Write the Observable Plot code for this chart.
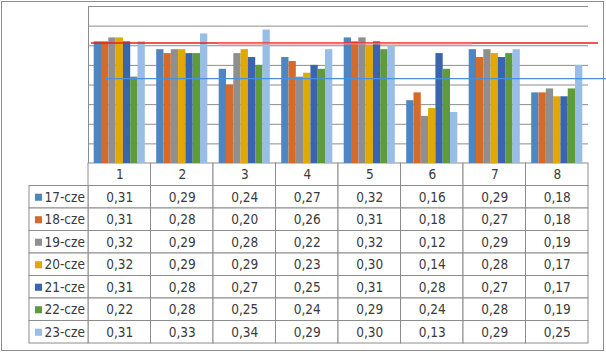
<!DOCTYPE html>
<html>
<head>
<meta charset="utf-8">
<script src="https://cdn.jsdelivr.net/npm/d3@7"></script>
<script src="https://cdn.jsdelivr.net/npm/@observablehq/plot@0.6"></script>
<style>
  html, body { margin: 0; padding: 0; background: white; }
  #wrap { position: relative; width: 606px; height: 352px; background: white; overflow: hidden; }
  #wrap svg { position: absolute; left: 0; top: 0; }
  #frame { position: absolute; left: 1px; top: 1px; width: 601px; height: 348px; border: 1px solid #8c8c8c; }
</style>
</head>
<body>
<div id="wrap"><div id="frame"></div></div>
<script>
const categories = ["1", "2", "3", "4", "5", "6", "7", "8"];
const series = ["17-cze", "18-cze", "19-cze", "20-cze", "21-cze", "22-cze", "23-cze"];
const v17 = [0.31, 0.29, 0.24, 0.27, 0.32, 0.16, 0.29, 0.18];
const v18 = [0.31, 0.28, 0.20, 0.26, 0.31, 0.18, 0.27, 0.18];
const v19 = [0.32, 0.29, 0.28, 0.22, 0.32, 0.12, 0.29, 0.19];
const v20 = [0.32, 0.29, 0.29, 0.23, 0.30, 0.14, 0.28, 0.17];
const v21 = [0.31, 0.28, 0.27, 0.25, 0.31, 0.28, 0.27, 0.17];
const v22 = [0.22, 0.28, 0.25, 0.24, 0.29, 0.24, 0.28, 0.19];
const v23 = [0.31, 0.33, 0.34, 0.29, 0.30, 0.13, 0.29, 0.25];
const colors = ["#4e86c1", "#d56b2a", "#8f8f8f", "#e1a800", "#3b64ae", "#5f9b3d", "#98bde6"];
const gridTicks = [0, 0.05, 0.1, 0.15, 0.2, 0.25, 0.3, 0.35, 0.4];
const redLine = 0.307;
const pinkLine = 0.305;
const blueLine = 0.216;

const seriesValues = [v17, v18, v19, v20, v21, v22, v23];
const rows = [];
series.forEach((s, i) => categories.forEach((c, j) => rows.push({series: s, cat: c, value: seriesValues[i][j]})));
const headerRows = categories.map(c => ({cat: c, series: "hdr"}));
const labelRows = series.map(s => ({series: s}));
const fmt = v => d3.format(".2f")(v).replace(".", ",");

const wrap = document.getElementById("wrap");
const FONT = "DejaVu Sans Condensed, DejaVu Sans, sans-serif";
const FS = 13.5;
const GRID = "#8c8c8c";
const TXT = "#3a3a3a";
const transparent = {background: "transparent", overflow: "visible"};

const chartDims = {width: 606, height: 164, marginTop: 6, marginBottom: 1};

// grid
wrap.appendChild(Plot.plot({
  ...chartDims, marginLeft: 88, marginRight: 18, style: transparent,
  x: {domain: [0, 1], axis: null},
  y: {domain: [0, 0.4], axis: null},
  marks: [
    Plot.ruleY(gridTicks, {stroke: GRID, strokeWidth: 1}),
    Plot.ruleX([0], {stroke: GRID, strokeWidth: 1})
  ]
}));

// table body
const tableDims = {width: 606, height: 352, marginTop: 163, marginBottom: 9};
const tableY = {domain: ["hdr", ...series], padding: 0, axis: null, round: false};
wrap.appendChild(Plot.plot({
  ...tableDims, marginLeft: 88, marginRight: 18, style: transparent,
  x: {domain: categories, padding: 0, axis: null, round: false},
  y: tableY,
  marks: [
    Plot.cell([...headerRows, ...rows], {x: "cat", y: "series", fill: "white", stroke: GRID, inset: 0}),
    Plot.text(headerRows, {x: "cat", y: "series", text: "cat", fill: TXT, fontSize: FS, fontFamily: FONT}),
    Plot.text(rows, {x: "cat", y: "series", text: d => fmt(d.value), fill: TXT, fontSize: FS, fontFamily: FONT})
  ]
}));

// row labels column
wrap.appendChild(Plot.plot({
  ...tableDims, marginLeft: 29, marginRight: 518, style: transparent,
  x: {domain: ["lbl"], padding: 0, axis: null, round: false},
  y: tableY,
  color: {domain: series, range: colors},
  marks: [
    Plot.cell(labelRows, {x: () => "lbl", y: "series", fill: "white", stroke: GRID, inset: 0}),
    Plot.dot(labelRows, {x: () => "lbl", y: "series", symbol: "square", r: 4, fill: "series", dx: -20.5}),
    Plot.text(labelRows, {x: () => "lbl", y: "series", text: "series", textAnchor: "start", dx: -14.5, fill: TXT, fontSize: FS, fontFamily: FONT})
  ]
}));

// bars
wrap.appendChild(Plot.plot({
  ...chartDims, marginLeft: 88, marginRight: 18, style: transparent,
  fx: {domain: categories, padding: 0, axis: null, round: false},
  x: {domain: series, paddingInner: 0, paddingOuter: 0.78, axis: null, round: false},
  y: {domain: [0, 0.4], axis: null},
  color: {domain: series, range: colors},
  marks: [
    Plot.barY(rows, {fx: "cat", x: "series", y: "value", fill: "series"})
  ]
}));

// reference lines
wrap.appendChild(Plot.plot({
  ...chartDims, marginLeft: 91, marginRight: 8, style: transparent,
  y: {domain: [0, 0.4], axis: null},
  marks: [Plot.ruleY([redLine], {stroke: "#ee1c1c", strokeWidth: 1.5})]
}));
wrap.appendChild(Plot.plot({
  ...chartDims, marginLeft: 218, marginRight: 134, style: transparent,
  y: {domain: [0, 0.4], axis: null},
  marks: [Plot.ruleY([pinkLine], {stroke: "#f08a8a", strokeWidth: 2, strokeOpacity: 0.7})]
}));
wrap.appendChild(Plot.plot({
  ...chartDims, marginLeft: 105, marginRight: 0, style: transparent,
  y: {domain: [0, 0.4], axis: null},
  marks: [Plot.ruleY([blueLine], {stroke: "#4a8fd8", strokeWidth: 1.3})]
}));
</script>
</body>
</html>
